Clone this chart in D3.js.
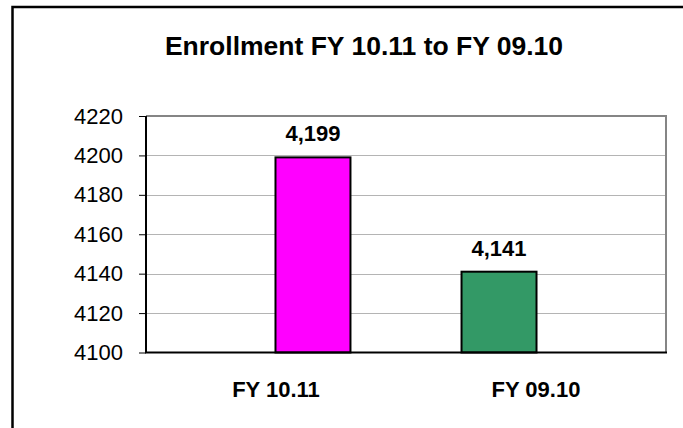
<!DOCTYPE html>
<html>
<head>
<meta charset="utf-8">
<script src="https://cdn.jsdelivr.net/npm/d3@7"></script>
<style>
  html, body { margin: 0; padding: 0; background: #fff; }
  svg { display: block; font-family: "Liberation Sans", Arial, sans-serif; }
</style>
</head>
<body>
<div id="chart"></div>
<script>
// Data
const categories = ['FY 10.11', 'FY 09.10'];
const enrollment = [4199, 4141];
const barColours = ['#ff00ff', '#339966'];
const yTicks = [4100, 4120, 4140, 4160, 4180, 4200, 4220];
const chartTitle = 'Enrollment FY 10.11 to FY 09.10';

// Dimensions
const width = 683;
const height = 428;
const plot = { left: 146, right: 666, top: 116, bottom: 352.5 };

const svg = d3.select('#chart').append('svg')
    .attr('width', width)
    .attr('height', height);

// Outer frame (top and left edges visible)
svg.append('path')
    .attr('d', `M12.5,${height} V7 H${width}`)
    .attr('fill', 'none')
    .attr('stroke', '#000')
    .attr('stroke-width', 2.5);

// Title
svg.append('text')
    .attr('x', 364)
    .attr('y', 54.5)
    .attr('text-anchor', 'middle')
    .attr('font-size', 26.5)
    .attr('font-weight', 'bold')
    .text(chartTitle);

// Scales
const y = d3.scaleLinear()
    .domain([4100, 4220])
    .range([plot.bottom, plot.top]);

const xBars = d3.scaleBand()
    .domain(categories)
    .range([plot.left, plot.right])
    .paddingInner(0.597)
    .paddingOuter(0.696)
    .align(0.5);

const xLabels = d3.scaleBand()
    .domain(categories)
    .range([plot.left, plot.right]);

// Gridlines
svg.append('g')
    .selectAll('line')
    .data(yTicks.filter(d => d > 4100 && d < 4220))
    .enter()
    .append('line')
    .attr('x1', plot.left)
    .attr('x2', plot.right)
    .attr('y1', d => Math.round(y(d)) + 0.5)
    .attr('y2', d => Math.round(y(d)) + 0.5)
    .attr('stroke', '#b4b4b4')
    .attr('stroke-width', 1);

// Plot area border (top and right in grey)
svg.append('path')
    .attr('d', `M${plot.left},${plot.top} H${plot.right} V${plot.bottom}`)
    .attr('fill', 'none')
    .attr('stroke', '#858585')
    .attr('stroke-width', 2);

// Bars
svg.append('g')
    .selectAll('rect')
    .data(enrollment)
    .enter()
    .append('rect')
    .attr('x', (d, i) => xBars(categories[i]))
    .attr('y', d => y(d))
    .attr('width', xBars.bandwidth())
    .attr('height', d => y(4100) - y(d))
    .attr('fill', (d, i) => barColours[i])
    .attr('stroke', '#000')
    .attr('stroke-width', 2);

// Value labels
svg.append('g')
    .selectAll('text')
    .data(enrollment)
    .enter()
    .append('text')
    .attr('x', (d, i) => xBars(categories[i]) + xBars.bandwidth() / 2)
    .attr('y', d => y(d) - 16)
    .attr('text-anchor', 'middle')
    .attr('font-size', 22)
    .attr('font-weight', 'bold')
    .text(d => d3.format(',')(d));

// Y axis
const yAxis = d3.axisLeft(y)
    .tickValues(yTicks)
    .tickSize(7)
    .tickPadding(16)
    .tickFormat(d3.format('d'));

const yAxisG = svg.append('g')
    .attr('transform', `translate(${plot.left},0)`)
    .call(yAxis);
yAxisG.select('.domain')
    .attr('stroke', '#000')
    .attr('stroke-width', 2)
    .attr('d', `M0,${plot.top}V${plot.bottom}`);
yAxisG.selectAll('.tick line').attr('stroke', '#000');
yAxisG.selectAll('.tick text')
    .attr('font-size', 22)
    .attr('font-family', '"Liberation Sans", Arial, sans-serif')
    .attr('fill', '#000');

// X axis line
svg.append('line')
    .attr('x1', plot.left - 1)
    .attr('x2', plot.right + 1)
    .attr('y1', plot.bottom)
    .attr('y2', plot.bottom)
    .attr('stroke', '#000')
    .attr('stroke-width', 2);

// Category labels
svg.append('g')
    .selectAll('text')
    .data(categories)
    .enter()
    .append('text')
    .attr('x', d => xLabels(d) + xLabels.bandwidth() / 2)
    .attr('y', 397)
    .attr('text-anchor', 'middle')
    .attr('font-size', 22)
    .attr('font-weight', 'bold')
    .text(d => d);
</script>
</body>
</html>
